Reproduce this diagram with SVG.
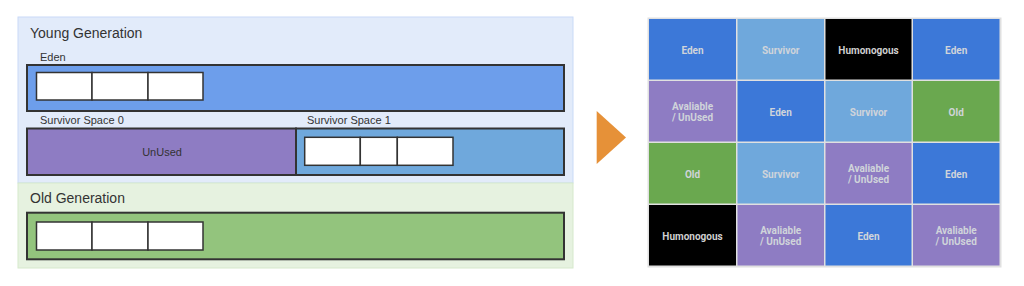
<svg xmlns="http://www.w3.org/2000/svg" width="1024" height="286" viewBox="0 0 1024 286">
<style>
.lbl{font-family:"Liberation Sans",Arial,sans-serif;fill:#333}
.bar{stroke:#333;stroke-width:2}
.cell{fill:#fff;stroke:#333;stroke-width:1.5}
.g{font-family:Roboto,"Liberation Sans",sans-serif;font-weight:bold;font-size:10px;fill:#d0d4da;text-anchor:middle}
.gh{fill:#cfcfcf}
</style>
<rect width="1024" height="286" fill="#fff"/>
<g id="young-generation">
<rect x="18" y="17" width="555" height="166" fill="#e2ebfa" stroke="#c9daf7" stroke-width="1"/>
<text class="lbl" x="30" y="38" font-size="14">Young Generation</text>
</g>
<g id="eden">
<text class="lbl" x="40" y="61" font-size="11">Eden</text>
<rect class="bar" x="27" y="65" width="537" height="46" fill="#6d9eeb"/>
<rect class="cell" x="36.5" y="72.5" width="55.5" height="27.5"/>
<rect class="cell" x="92" y="72.5" width="56" height="27.5"/>
<rect class="cell" x="148" y="72.5" width="55" height="27.5"/>
</g>
<g id="survivor-0">
<text class="lbl" x="40" y="124" font-size="11">Survivor Space 0</text>
<rect class="bar" x="27" y="128.5" width="269" height="46.5" fill="#8e7cc3"/>
<text class="lbl" x="162" y="156" font-size="11" text-anchor="middle">UnUsed</text>
</g>
<g id="survivor-1">
<text class="lbl" x="307" y="124" font-size="11">Survivor Space 1</text>
<rect class="bar" x="296" y="128.5" width="268" height="46.5" fill="#6fa8dc"/>
<rect class="cell" x="304.7" y="137.3" width="55.6" height="28"/>
<rect class="cell" x="360.3" y="137.3" width="37" height="28"/>
<rect class="cell" x="397.3" y="137.3" width="55.7" height="28"/>
</g>
<g id="old-generation">
<rect x="18" y="183" width="555" height="85" fill="#e6f2e0" stroke="#d6e9cc" stroke-width="1"/>
<text class="lbl" x="30" y="203" font-size="14">Old Generation</text>
<rect class="bar" x="27" y="212.7" width="537" height="46.6" fill="#93c47d"/>
<rect class="cell" x="36.5" y="222" width="55.5" height="28"/>
<rect class="cell" x="92" y="222" width="56" height="28"/>
<rect class="cell" x="148" y="222" width="55" height="28"/>
</g>
<g id="connectors">
<polygon points="596.7,111 626,137.5 596.7,164" fill="#e69138"/>
</g>
<g id="region-grid">
<rect x="647.5" y="17.5" width="354" height="250" fill="#e0e0e0"/>
<rect x="649" y="19" width="87" height="60.5" fill="#3c78d8"/>
<rect x="737.5" y="19" width="86.5" height="60.5" fill="#6fa8dc"/>
<rect x="825.5" y="19" width="86" height="60.5" fill="#000"/>
<rect x="913" y="19" width="86.5" height="60.5" fill="#3c78d8"/>
<rect x="649" y="81" width="87" height="60.5" fill="#8e7cc3"/>
<rect x="737.5" y="81" width="86.5" height="60.5" fill="#3c78d8"/>
<rect x="825.5" y="81" width="86" height="60.5" fill="#6fa8dc"/>
<rect x="913" y="81" width="86.5" height="60.5" fill="#6aa84f"/>
<rect x="649" y="143" width="87" height="60.5" fill="#6aa84f"/>
<rect x="737.5" y="143" width="86.5" height="60.5" fill="#6fa8dc"/>
<rect x="825.5" y="143" width="86" height="60.5" fill="#8e7cc3"/>
<rect x="913" y="143" width="86.5" height="60.5" fill="#3c78d8"/>
<rect x="649" y="205" width="87" height="60.5" fill="#000"/>
<rect x="737.5" y="205" width="86.5" height="60.5" fill="#8e7cc3"/>
<rect x="825.5" y="205" width="86" height="60.5" fill="#3c78d8"/>
<rect x="913" y="205" width="86.5" height="60.5" fill="#8e7cc3"/>
<text class="g" x="692.5" y="53.5">Eden</text>
<text class="g" x="780.7" y="53.5">Survivor</text>
<text class="g gh" x="868.5" y="53.5">Humonogous</text>
<text class="g" x="956.2" y="53.5">Eden</text>
<text class="g" x="692.5" y="110">Avaliable</text>
<text class="g" x="692.5" y="121">/ UnUsed</text>
<text class="g" x="780.7" y="115.5">Eden</text>
<text class="g" x="868.5" y="115.5">Survivor</text>
<text class="g" x="956.2" y="115.5">Old</text>
<text class="g" x="692.5" y="177.5">Old</text>
<text class="g" x="780.7" y="177.5">Survivor</text>
<text class="g" x="868.5" y="172">Avaliable</text>
<text class="g" x="868.5" y="183">/ UnUsed</text>
<text class="g" x="956.2" y="177.5">Eden</text>
<text class="g gh" x="692.5" y="239.5">Humonogous</text>
<text class="g" x="780.7" y="234">Avaliable</text>
<text class="g" x="780.7" y="245">/ UnUsed</text>
<text class="g" x="868.5" y="239.5">Eden</text>
<text class="g" x="956.2" y="234">Avaliable</text>
<text class="g" x="956.2" y="245">/ UnUsed</text>
</g>
</svg>
